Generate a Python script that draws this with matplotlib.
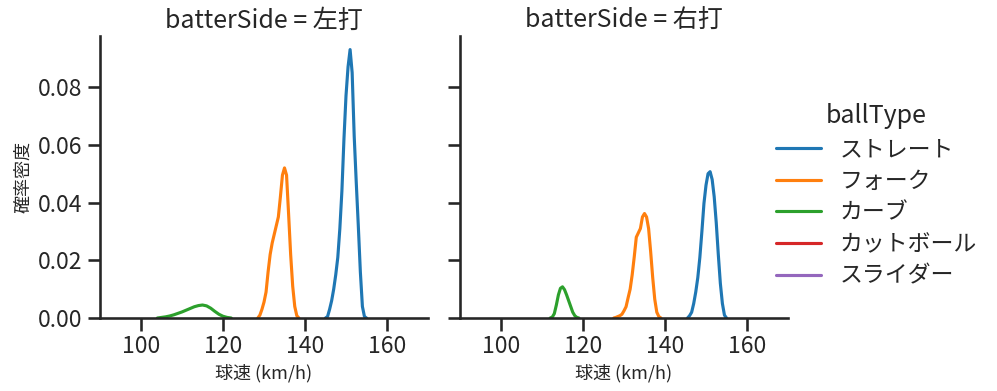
import matplotlib
matplotlib.use("Agg")
import matplotlib.pyplot as plt
import seaborn as sns

sns.set_context("talk")
sns.set_style("ticks")
plt.rcParams['font.family'] = ['Noto Sans CJK JP', 'DejaVu Sans']

sides = ["左打", "右打"]
ball_types = ["ストレート", "フォーク", "カーブ", "カットボール", "スライダー"]
colors = ["#1f77b4", "#ff7f0e", "#2ca02c", "#d62728", "#9467bd"]

# 左打
l_str_x = [145.0, 145.5, 146.0, 146.5, 147.0, 147.5, 148.0, 148.5, 149.0, 149.5, 150.0,
           150.5, 151.0, 151.5, 152.0, 152.5, 153.0, 153.5, 154.0, 154.5, 155.0]
l_str_y = [0.0, 0.0005, 0.003, 0.006, 0.010, 0.015, 0.021, 0.031, 0.044, 0.062, 0.077,
           0.087, 0.093, 0.085, 0.063, 0.047, 0.032, 0.016, 0.004, 0.0005, 0.0]
l_fk_x = [128.5, 129.0, 129.5, 130.0, 130.5, 131.0, 131.5, 132.0, 132.5, 133.0, 133.5,
          134.0, 134.5, 135.0, 135.5, 136.0, 136.5, 137.0, 137.5, 138.0, 138.5]
l_fk_y = [0.0, 0.001, 0.003, 0.0055, 0.009, 0.016, 0.022, 0.026, 0.029, 0.032, 0.035,
          0.042, 0.0495, 0.052, 0.0495, 0.036, 0.022, 0.011, 0.004, 0.0008, 0.0]
l_cv_x = [104, 105, 106, 107, 108, 109, 110, 111, 112, 113, 114, 115, 116, 117, 118,
          119, 120, 121, 122]
l_cv_y = [0.0, 0.0002, 0.0004, 0.0007, 0.0011, 0.0016, 0.0021, 0.0027, 0.0033, 0.0039,
          0.0043, 0.0045, 0.0042, 0.0034, 0.0023, 0.0013, 0.0006, 0.0002, 0.0]

# 右打
r_str_x = [145.5, 146.0, 146.5, 147.0, 147.5, 148.0, 148.5, 149.0, 149.5, 150.0, 150.5,
           151.0, 151.5, 152.0, 152.5, 153.0, 153.5, 154.0, 154.5, 155.0]
r_str_y = [0.0, 0.0008, 0.002, 0.005, 0.009, 0.014, 0.021, 0.030, 0.0397, 0.046, 0.050,
           0.0507, 0.048, 0.042, 0.033, 0.022, 0.012, 0.005, 0.001, 0.0]
r_fk_x = [127.5, 128.0, 128.5, 129.0, 129.5, 130.0, 130.5, 131.0, 131.5, 132.0, 132.5,
          133.0, 133.5, 134.0, 134.5, 135.0, 135.5, 136.0, 136.5, 137.0, 137.5, 138.0,
          138.5, 139.0]
r_fk_y = [0.0, 0.0002, 0.0005, 0.0008, 0.0013, 0.0025, 0.0039, 0.007, 0.010, 0.015,
          0.0212, 0.028, 0.0295, 0.031, 0.035, 0.0362, 0.035, 0.031, 0.023, 0.014,
          0.0065, 0.002, 0.0005, 0.0]
r_cv_x = [112.0, 112.5, 113.0, 113.5, 114.0, 114.5, 115.0, 115.5, 116.0, 116.5, 117.0,
          117.5, 118.0, 118.5, 119.0]
r_cv_y = [0.0, 0.0003, 0.0015, 0.0045, 0.0080, 0.0103, 0.0108, 0.0098, 0.0080, 0.0060,
          0.0040, 0.0020, 0.0008, 0.0002, 0.0]

curves = {
    "左打": [(l_str_x, l_str_y), (l_fk_x, l_fk_y), (l_cv_x, l_cv_y)],
    "右打": [(r_str_x, r_str_y), (r_fk_x, r_fk_y), (r_cv_x, r_cv_y)],
}

fig = plt.figure(figsize=(9.97, 3.91), dpi=100)
ax1 = fig.add_axes([100/997, 73/391, 328/997, 282/391])
ax2 = fig.add_axes([460/997, 73/391, 328/997, 282/391], sharey=ax1)

for ax, side in zip([ax1, ax2], sides):
    for i, (xs, ys) in enumerate(curves[side]):
        ax.plot(xs, ys, color=colors[i], lw=2.25)
    ax.set_xlim(90, 170)
    ax.set_xticks([100, 120, 140, 160])
    ax.set_ylim(0, 0.0977)
    ax.set_yticks([0, 0.02, 0.04, 0.06, 0.08])
    ax.set_title(f"batterSide = {side}", fontsize=18)
    ax.set_xlabel("球速 (km/h)", fontsize=13)
    sns.despine(ax=ax)

ax1.set_ylabel("確率密度", fontsize=13)
ax2.tick_params(axis="y", labelleft=False)

handles = [plt.Line2D([], [], color=c, lw=2.25) for c in colors]
leg = fig.legend(handles, ball_types, title="ballType", loc="center left",
                 bbox_to_anchor=(755/997, 0.5), frameon=False, fontsize=16.5,
                 title_fontsize=18, labelspacing=0.38)

fig.savefig("out.png", dpi=100)
